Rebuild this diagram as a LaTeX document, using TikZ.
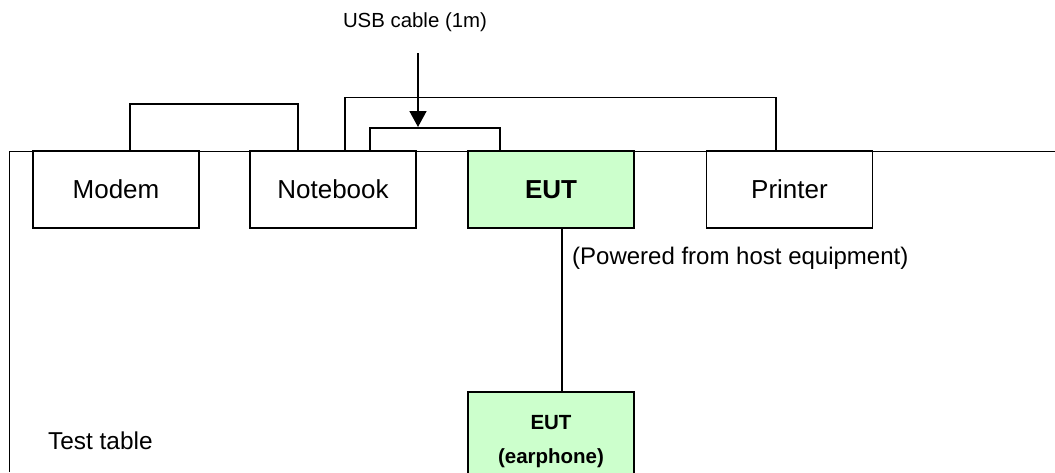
\documentclass[tikz,border=0pt]{standalone}
\usepackage{fontspec}
\setmainfont{Liberation Sans}
\usetikzlibrary{arrows.meta}
\definecolor{eutgreen}{HTML}{CCFFCC}
\begin{document}
\begin{tikzpicture}[x=1pt,y=-1pt,
  line/.style={line width=1.7pt},
  unit/.style={draw, line width=1.7pt, fill=white, minimum width=166pt, minimum height=77pt, inner sep=0pt, font=\fontsize{26}{30}\selectfont},
  eut/.style={unit, fill=eutgreen, font=\fontsize{26}{30}\selectfont\bfseries},
  lbl/.style={inner sep=0pt, anchor=west}]
\useasboundingbox (0,0) rectangle (1055,472);
% table
\coordinate (tl) at (9.5,472);
\coordinate (tt) at (9.5,151.5);
\coordinate (tr) at (1056,151.5);
\draw[line] (tl) -- (tt) -- (tr);
% units
\node[unit] (modem) at (116,189.5) {Modem};
\node[unit] (nb) at (333,189.5) {Notebook};
\node[eut] (eut) at (551,189.5) {EUT};
\node[unit] (pr) at (789.5,189.5) {Printer};
\node[eut, font=\fontsize{20.5}{34}\selectfont\bfseries, align=center, minimum height=100pt, anchor=north] (ear) at (551,391) {EUT\\(earphone)};
% cables
\draw[line] (130,151.5) -- (130,104) -- (298,104) -- (298,151.5);
\draw[line] (345,151.5) -- (345,97.5) -- (776,97.5) -- (776,151.5);
\draw[line] (370,151.5) -- (370,128) -- (500,128) -- (500,151.5);
\draw[line] (eut.south -| 562,0) -- (ear.north -| 562,0);
% labels
\node[inner sep=0pt, font=\fontsize{20.4}{24}\selectfont] (usb) at (415,22) {USB cable (1m)};
\coordinate (arrs) at (418,53);
\coordinate (arre) at (418,127);
\draw[line, -{Triangle[length=16pt,width=17pt]}] (arrs) -- (arre);
\node[lbl, font=\fontsize{24}{28}\selectfont] (pw) at (572,258) {(Powered from host equipment)};
\node[lbl, font=\fontsize{24.4}{28}\selectfont] (tt2) at (48,441) {Test table};
\end{tikzpicture}
\end{document}
